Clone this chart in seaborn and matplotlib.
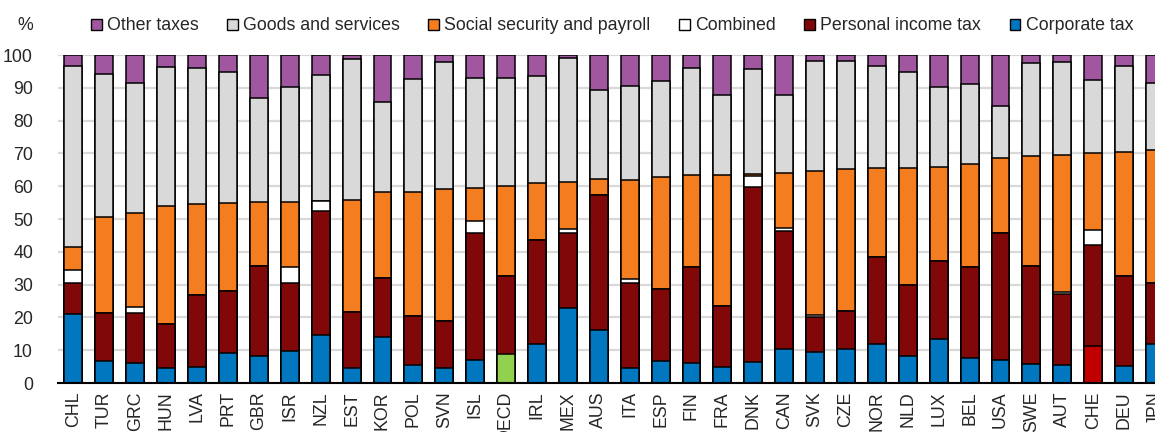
import numpy as np
import pandas as pd
import matplotlib
matplotlib.use("Agg")
import matplotlib.pyplot as plt
import seaborn as sns
from matplotlib.patches import Patch

# ==========================
# DATA (share of total tax revenue, %)
# ==========================
countries = ["CHL", "TUR", "GRC", "HUN", "LVA", "PRT", "GBR", "ISR", "NZL", "EST",
             "KOR", "POL", "SVN", "ISL", "OECD", "IRL", "MEX", "AUS", "ITA", "ESP",
             "FIN", "FRA", "DNK", "CAN", "SVK", "CZE", "NOR", "NLD", "LUX", "BEL",
             "USA", "SWE", "AUT", "CHE", "DEU", "JPN"]

corporate = [21.0, 6.6, 6.1, 4.6, 4.9, 9.0, 8.2, 9.8, 14.5, 4.5,
             14.0, 5.4, 4.6, 7.1, 8.7, 12.0, 22.8, 16.2, 4.7, 6.6,
             6.0, 4.8, 6.3, 10.4, 9.6, 10.4, 11.9, 8.3, 13.4, 7.6,
             6.9, 5.8, 5.4, 11.2, 5.1, 11.8]
personal = [9.5, 14.6, 15.2, 13.5, 22.0, 19.0, 27.5, 20.8, 37.9, 17.2,
            17.9, 14.9, 14.4, 38.6, 24.0, 31.5, 22.9, 41.0, 25.8, 22.0,
            29.4, 18.8, 53.6, 36.0, 10.4, 11.7, 26.4, 21.6, 23.7, 27.9,
            38.8, 30.0, 21.7, 30.8, 27.4, 18.7]
combined = [3.8, 0.0, 1.9, 0.0, 0.0, 0.0, 0.0, 4.7, 3.1, 0.0,
            0.0, 0.0, 0.0, 3.6, 0.0, 0.0, 1.4, 0.0, 1.2, 0.0,
            0.0, 0.0, 3.1, 1.0, 0.7, 0.0, 0.0, 0.0, 0.0, 0.0,
            0.0, 0.0, 0.7, 4.6, 0.0, 0.0]
social = [7.3, 29.4, 28.6, 35.8, 27.7, 26.9, 19.5, 20.0, 0.0, 34.0,
          26.2, 37.9, 40.2, 10.1, 27.4, 17.6, 14.2, 4.9, 30.3, 34.1,
          28.0, 39.8, 0.6, 16.6, 44.0, 43.1, 27.2, 35.8, 28.7, 31.2,
          23.0, 33.5, 41.7, 23.5, 38.0, 40.5]
goods = [54.9, 43.5, 39.8, 42.5, 41.5, 39.8, 31.8, 34.8, 38.5, 43.0,
         27.7, 34.5, 38.7, 33.5, 32.8, 32.6, 37.8, 27.1, 28.6, 29.4,
         32.7, 24.3, 32.0, 23.9, 33.5, 33.0, 31.1, 29.2, 24.4, 24.6,
         15.9, 28.2, 28.5, 22.3, 26.1, 20.4]
other = [3.5, 5.9, 8.4, 3.6, 3.9, 5.3, 13.0, 9.9, 6.0, 1.3,
         14.2, 7.3, 2.1, 7.1, 7.1, 6.3, 0.9, 10.8, 9.4, 7.9,
         3.9, 12.3, 4.4, 12.1, 1.8, 1.8, 3.4, 5.1, 9.8, 8.7,
         15.4, 2.5, 2.0, 7.6, 3.4, 8.6]

series_names = ["Corporate tax", "Personal income tax", "Combined",
                "Social security and payroll", "Goods and services", "Other taxes"]
series_colors = ["#0077BE", "#800808", "#FFFFFF", "#F47D20", "#D9D9D9", "#A157A0"]

highlight = {"OECD": "#92D050", "CHE": "#C00000"}

# ==========================
# BUILD CUMULATIVE TABLE
# ==========================
df = pd.DataFrame({
    "country": countries,
    "Corporate tax": corporate,
    "Personal income tax": personal,
    "Combined": combined,
    "Social security and payroll": social,
    "Goods and services": goods,
    "Other taxes": other,
})
cum = df[series_names].cumsum(axis=1)
cum["country"] = df["country"]

# ==========================
# PLOT
# ==========================
sns.set_style("white")
plt.rcParams["font.family"] = ["Liberation Sans", "DejaVu Sans"]
fs = 12.8

fig = plt.figure(figsize=(11.55, 4.32), dpi=100)
ax = fig.add_axes([58 / 1155, 49 / 432, 1 - 58 / 1155, 328 / 432])

# draw from the top layer down so lower layers sit on top
for name, color in reversed(list(zip(series_names, series_colors))):
    sns.barplot(data=cum, x="country", y=name, order=countries, color=color,
                edgecolor="black", linewidth=1.1, width=0.58, saturation=1,
                ax=ax, zorder=3)

# recolour the corporate bar for OECD and CHE
corp_bars = ax.containers[-1]
for i, c in enumerate(countries):
    if c in highlight:
        corp_bars[i].set_facecolor(highlight[c])

ax.set_xlim(-0.5, 35.0)
ax.set_ylim(0, 100)
ax.set_yticks(np.arange(0, 101, 10))
ax.set_xlabel("")
ax.set_ylabel("")

ax.yaxis.grid(True, color="#D9D9D9", linewidth=1.6, zorder=0)
ax.set_axisbelow(True)

for s in ["left", "right", "top"]:
    ax.spines[s].set_visible(False)
ax.spines["bottom"].set_color("black")
ax.spines["bottom"].set_linewidth(1.5)
ax.spines["bottom"].set_zorder(5)

ax.tick_params(axis="y", length=0, pad=18, labelsize=fs)
ax.tick_params(axis="x", which="major", length=0, pad=6, labelsize=fs, rotation=90)
ax.set_xticks(np.arange(-0.5, 35.0, 1.0), minor=True)
ax.tick_params(axis="x", which="minor", direction="in", length=5, width=1.3, color="black")

fig.text(25 / 1155, 1 - 26 / 432, "%", ha="center", va="center", fontsize=fs)

handles = [Patch(facecolor=c, edgecolor="black", linewidth=1) for c in series_colors]
order = [5, 4, 3, 2, 1, 0]
fig.legend([handles[i] for i in order], [series_names[i] for i in order],
           loc="center", bbox_to_anchor=(612 / 1155, 1 - 26 / 432), ncol=6,
           frameon=False, handlelength=0.6, handleheight=0.6, handletextpad=0.3,
           columnspacing=1.6, fontsize=fs, borderaxespad=0)

fig.savefig("out.png", dpi=100)
